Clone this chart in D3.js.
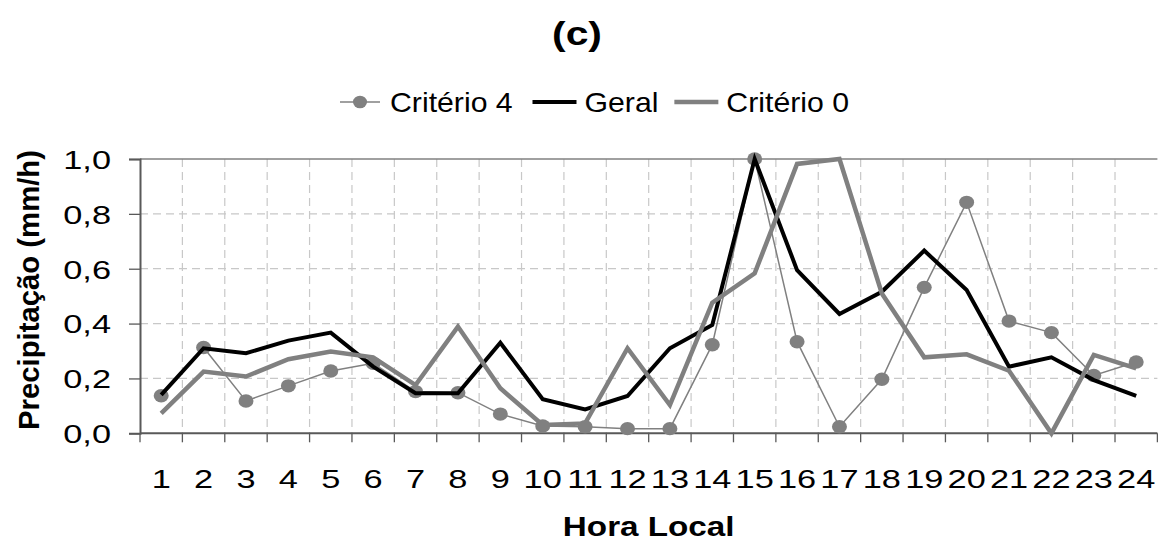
<!DOCTYPE html>
<html>
<head>
<meta charset="utf-8">
<title>Precipitação (c)</title>
<script src="https://d3js.org/d3.v7.min.js"></script>
<style>
  body { margin: 0; background: #fff; }
  text { font-family: "Liberation Sans", Arial, sans-serif; fill: #000; }
</style>
</head>
<body>
<script>
// hora local 1..24
var hours = ['1','2','3','4','5','6','7','8','9','10','11','12','13','14','15','16','17','18','19','20','21','22','23','24'];
var criterio4 = [0.137, 0.313, 0.118, 0.173, 0.227, 0.255, 0.152, 0.148, 0.070, 0.027, 0.024, 0.017,
                 0.017, 0.323, 1.000, 0.334, 0.024, 0.197, 0.532, 0.842, 0.409, 0.367, 0.211, 0.260];
var geral     = [0.140, 0.310, 0.292, 0.338, 0.367, 0.243, 0.146, 0.146, 0.330, 0.124, 0.087, 0.136,
                 0.310, 0.395, 1.000, 0.595, 0.435, 0.516, 0.666, 0.522, 0.243, 0.277, 0.194, 0.136];
var criterio0 = [0.073, 0.225, 0.207, 0.270, 0.298, 0.277, 0.176, 0.389, 0.164, 0.030, 0.036, 0.310,
                 0.103, 0.476, 0.583, 0.982, 1.000, 0.510, 0.277, 0.288, 0.228, 0.000, 0.286, 0.237];
var yTicks = [0, 0.2, 0.4, 0.6, 0.8, 1.0];
var seriesNames = ['Critério 4', 'Geral', 'Critério 0'];

var W = 1158, H = 541;
var pL = 140, pR = 1157.4, pT = 159, pB = 433.3;

var svg = d3.select('body').append('svg')
  .attr('width', W)
  .attr('height', H);

var x = d3.scaleBand().domain(hours).range([pL, pR]);
var y = d3.scaleLinear().domain([0, 1]).range([pB, pT]);
var cx = function(i) { return x(hours[i]) + x.bandwidth() / 2; };
var fmt = function(v) { return d3.format('.1f')(v).replace('.', ','); };

// widen text a bit, the original chart was stretched sideways
function stretch(sel, k) {
  sel.each(function() {
    var w = this.getComputedTextLength();
    d3.select(this).attr('textLength', w * k).attr('lengthAdjust', 'spacingAndGlyphs');
  });
}

// grid
var bounds = hours.map(function(h) { return x(h); }).concat([pR]);
svg.append('g').selectAll('line')
  .data(bounds.slice(1, -1))
  .enter().append('line')
  .attr('x1', function(d) { return d; }).attr('x2', function(d) { return d; })
  .attr('y1', pT).attr('y2', pB)
  .attr('stroke', '#c8c8c8').attr('stroke-width', 1.2)
  .attr('stroke-dasharray', '8,5');
svg.append('g').selectAll('line')
  .data(yTicks.slice(1, -1))
  .enter().append('line')
  .attr('x1', pL).attr('x2', pR)
  .attr('y1', function(d) { return y(d); }).attr('y2', function(d) { return y(d); })
  .attr('stroke', '#c8c8c8').attr('stroke-width', 1.2)
  .attr('stroke-dasharray', '8,5');

// top border
svg.append('line')
  .attr('x1', pL).attr('x2', pR)
  .attr('y1', y(1)).attr('y2', y(1))
  .attr('stroke', '#808080').attr('stroke-width', 1.5);

// y axis
var yAxis = svg.append('g')
  .attr('transform', 'translate(' + pL + ',0)')
  .call(d3.axisLeft(y).tickValues(yTicks).tickFormat(fmt).tickSize(11).tickPadding(18));
yAxis.select('.domain').attr('stroke', '#595959').attr('stroke-width', 2);
yAxis.selectAll('.tick line').attr('stroke', '#595959').attr('stroke-width', 1.3);
yAxis.selectAll('.tick text')
  .attr('font-size', 26).attr('dy', '0.36em').attr('fill', '#000')
  .style('font-family', '"Liberation Sans", Arial, sans-serif');
yAxis.selectAll('.tick text').call(stretch, 1.32);

// x axis: line, ticks at category borders, labels at centres
svg.append('line')
  .attr('x1', pL).attr('x2', pR)
  .attr('y1', pB).attr('y2', pB)
  .attr('stroke', '#595959').attr('stroke-width', 2);
svg.append('g').selectAll('line')
  .data(bounds)
  .enter().append('line')
  .attr('x1', function(d) { return d; }).attr('x2', function(d) { return d; })
  .attr('y1', pB).attr('y2', pB + 9)
  .attr('stroke', '#595959').attr('stroke-width', 1.3);
svg.append('g').selectAll('text')
  .data(hours)
  .enter().append('text')
  .attr('x', function(d) { return x(d) + x.bandwidth() / 2; })
  .attr('y', 488)
  .attr('text-anchor', 'middle')
  .attr('font-size', 26)
  .text(function(d) { return d; })
  .call(stretch, 1.32);

// series
var line = d3.line()
  .x(function(d, i) { return cx(i); })
  .y(function(d) { return y(d); });

svg.append('path').datum(criterio4)
  .attr('d', line).attr('fill', 'none')
  .attr('stroke', '#808080').attr('stroke-width', 1.5);
svg.append('g').selectAll('ellipse')
  .data(criterio4)
  .enter().append('ellipse')
  .attr('cx', function(d, i) { return cx(i); })
  .attr('cy', function(d) { return y(d); })
  .attr('rx', 7.5).attr('ry', 6.7)
  .attr('fill', '#808080');

svg.append('path').datum(geral)
  .attr('d', line).attr('fill', 'none')
  .attr('stroke', '#000').attr('stroke-width', 4)
  .attr('stroke-linejoin', 'miter');

svg.append('path').datum(criterio0)
  .attr('d', line).attr('fill', 'none')
  .attr('stroke', '#808080').attr('stroke-width', 4.5)
  .attr('stroke-linejoin', 'miter');

// title
svg.append('text')
  .attr('x', 577).attr('y', 45)
  .attr('text-anchor', 'middle')
  .attr('font-size', 34).attr('font-weight', 'bold')
  .text('(c)')
  .call(stretch, 1.2);

// legend
var lg = svg.append('g').attr('transform', 'translate(340,102)');
var lx = 0;
seriesNames.forEach(function(name, i) {
  var it = lg.append('g').attr('transform', 'translate(' + lx + ',0)');
  if (i == 0) {
    it.append('line').attr('x1', 0).attr('x2', 40).attr('y1', 0).attr('y2', 0)
      .attr('stroke', '#808080').attr('stroke-width', 1.5);
    it.append('ellipse').attr('cx', 20).attr('cy', 0).attr('rx', 7).attr('ry', 6.3).attr('fill', '#808080');
  } else {
    it.append('line').attr('x1', 0).attr('x2', 44).attr('y1', 0).attr('y2', 0)
      .attr('stroke', i == 1 ? '#000' : '#808080').attr('stroke-width', i == 1 ? 4 : 4.5);
  }
  var t = it.append('text')
    .attr('x', i == 0 ? 50 : 52).attr('y', 10)
    .attr('font-size', 28)
    .text(name)
    .call(stretch, 1.08);
  lx += (i == 0 ? 50 : 52) + t.node().getComputedTextLength() * 1.08 + 10;
});

// axis titles
svg.append('text')
  .attr('x', (pL + pR) / 2).attr('y', 536)
  .attr('text-anchor', 'middle')
  .attr('font-size', 27).attr('font-weight', 'bold')
  .text('Hora Local')
  .call(stretch, 1.23);

svg.append('text')
  .attr('transform', 'translate(39,290) rotate(-90)')
  .attr('text-anchor', 'middle')
  .attr('font-size', 29).attr('font-weight', 'bold')
  .text('Precipitação (mm/h)')
  .attr('textLength', 280).attr('lengthAdjust', 'spacingAndGlyphs');
</script>
</body>
</html>
